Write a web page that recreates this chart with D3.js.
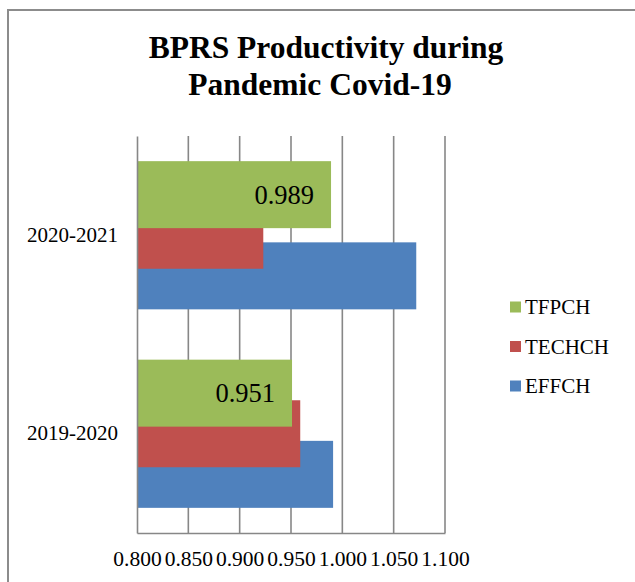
<!DOCTYPE html>
<html>
<head>
<meta charset="utf-8">
<script src="https://cdn.jsdelivr.net/npm/d3@7"></script>
<style>
  html, body { margin: 0; padding: 0; background: #fff; }
  svg { display: block; }
  svg text { font-family: "Liberation Serif", "DejaVu Serif", serif; }
</style>
</head>
<body>
<svg id="chart" width="635" height="582"></svg>
<script>
// ---- data ----
const categories = ["2020-2021", "2019-2020"];          // top to bottom
const seriesNames = ["EFFCH", "TECHCH", "TFPCH"];       // drawing order
const effch  = [1.072, 0.991];
const techch = [0.923, 0.959];
const tfpch  = [0.989, 0.951];
const tickValues = [0.800, 0.850, 0.900, 0.950, 1.000, 1.050, 1.100];
const titleLines = ["BPRS Productivity during", "Pandemic Covid-19"];
const legendOrder = ["TFPCH", "TECHCH", "EFFCH"];

const colors = { EFFCH: "#4F81BD", TECHCH: "#C0504D", TFPCH: "#9BBB59" };
const seriesValues = { EFFCH: effch, TECHCH: techch, TFPCH: tfpch };

const svg = d3.select("#chart");
const font = '"Liberation Serif", "DejaVu Serif", serif';
const gridColor = "#878787";

// outer border
svg.append("rect")
  .attr("x", 8).attr("y", 10).attr("width", 640).attr("height", 600)
  .attr("fill", "none").attr("stroke", "#8c8c8c").attr("stroke-width", 2);

// title
svg.append("g").selectAll("text").data(titleLines).join("text")
  .attr("x", (d, i) => i === 0 ? 326 : 320).attr("y", (d, i) => 58 + i * 37)
  .attr("text-anchor", "middle")
  .style("font-family", font).style("font-weight", "bold").style("font-size", "31.5px")
  .attr("fill", "#000")
  .text(d => d);

// scales
const x = d3.scaleLinear().domain([0.8, 1.1]).range([137, 445]);
const y = d3.scaleBand().domain(categories).range([136, 533]);
const bw = y.bandwidth();
const barH = bw * 0.3375;
const step = bw * 0.2045;
const offsets = { TFPCH: -(barH / 2 + step), TECHCH: -(barH / 2), EFFCH: -(barH / 2 - step) };

// gridlines
svg.append("g").selectAll("line").data(tickValues.slice(1)).join("line")
  .attr("x1", d => x(d)).attr("x2", d => x(d))
  .attr("y1", 136).attr("y2", 533)
  .attr("stroke", gridColor).attr("stroke-width", 1.6);

// bars
seriesNames.forEach(s => {
  svg.append("g").selectAll("rect").data(categories).join("rect")
    .attr("x", x(0.8))
    .attr("y", c => y(c) + bw / 2 + offsets[s])
    .attr("width", (c, i) => x(seriesValues[s][i]) - x(0.8))
    .attr("height", barH)
    .attr("fill", colors[s]);
});

// data labels for TFPCH
svg.append("g").selectAll("text").data(categories).join("text")
  .attr("x", (c, i) => x(tfpch[i]) - 17)
  .attr("y", c => y(c) + bw / 2 + offsets.TFPCH + barH / 2)
  .attr("dy", "0.35em")
  .attr("text-anchor", "end")
  .style("font-family", font).style("font-size", "26.5px")
  .attr("fill", "#000")
  .text((c, i) => d3.format(".3f")(tfpch[i]));

// axes
const xAxis = d3.axisBottom(x).tickValues(tickValues).tickFormat(d3.format(".3f")).tickSize(0).tickPadding(18);
const gx = svg.append("g").attr("transform", "translate(0,533)").call(xAxis);
gx.attr("font-family", null).attr("font-size", null);
gx.select(".domain").attr("stroke", gridColor).attr("stroke-width", 1.6);
gx.selectAll("text").style("font-family", font).style("font-size", "21.5px").attr("fill", "#000");

const yAxis = d3.axisLeft(y).tickSize(0).tickPadding(19);
const gy = svg.append("g").attr("transform", "translate(137,0)").call(yAxis);
gy.attr("font-family", null).attr("font-size", null);
gy.select(".domain").attr("stroke", gridColor).attr("stroke-width", 1.6);
gy.selectAll("text").style("font-family", font).style("font-size", "21px").attr("fill", "#000");

// legend
const lg = svg.append("g").selectAll("g").data(legendOrder).join("g")
  .attr("transform", (d, i) => `translate(510, ${307 + i * 39.5})`);
lg.append("rect").attr("x", 0).attr("y", -5.5).attr("width", 11).attr("height", 11)
  .attr("fill", d => colors[d]);
lg.append("text").attr("x", 15).attr("y", 0).attr("dy", "0.35em")
  .style("font-family", font).style("font-size", "21px").attr("fill", "#000")
  .text(d => d);
</script>
</body>
</html>
